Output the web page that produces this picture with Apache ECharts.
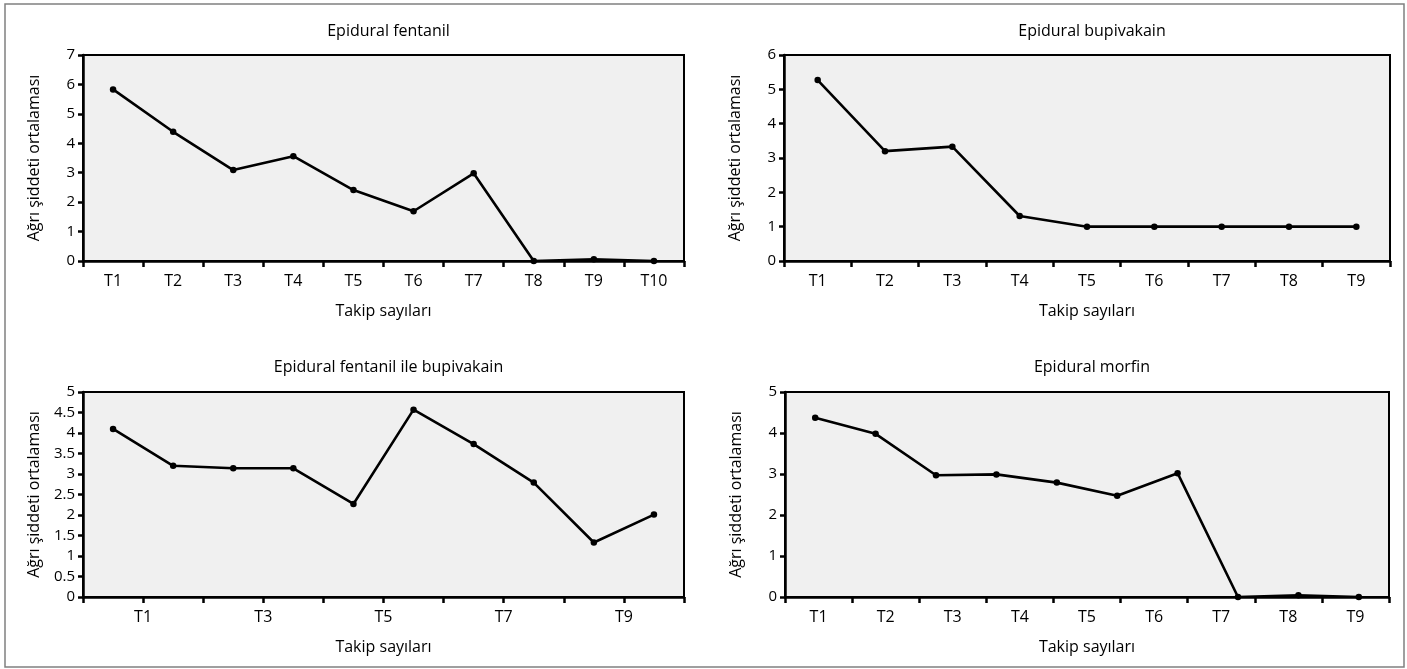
<!DOCTYPE html>
<html><head><meta charset="utf-8">
<script src="https://cdn.jsdelivr.net/npm/echarts@6/dist/echarts.min.js"></script>
<style>html,body{margin:0;padding:0;background:#fff}#c{width:1407px;height:669px}</style>
</head><body><div id="c"></div>
<script>
const titles = ['Epidural fentanil', 'Epidural bupivakain', 'Epidural fentanil ile bupivakain', 'Epidural morfin'];
const yAxisName = 'Ağrı şiddeti ortalaması';
const xAxisName = 'Takip sayıları';

const fentanilCats = ['T1','T2','T3','T4','T5','T6','T7','T8','T9','T10'];
const fentanilVals = [5.83, 4.39, 3.09, 3.56, 2.41, 1.69, 2.98, 0, 0.06, 0];

const bupiCats = ['T1','T2','T3','T4','T5','T6','T7','T8','T9'];
const bupiVals = [5.27, 3.2, 3.33, 1.31, 1, 1, 1, 1, 1];

const comboTickLabels = ['', 'T1', '', 'T3', '', 'T5', '', 'T7', '', 'T9', ''];
const comboVals = [4.10, 3.20, 3.14, 3.14, 2.27, 4.57, 3.73, 2.79, 1.33, 2.01];

const morfinCats = ['T1','T2','T3','T4','T5','T6','T7','T8','T9'];
const morfinVals = [4.37, 3.98, 2.97, 2.99, 2.79, 2.47, 3.02, 0, 0.04, 0];

const yMaxes = [7, 6, 5, 5];
const yIntervals = [1, 1, 0.5, 1];

const FONT = '"Open Sans", sans-serif';

const grids = [
  {left: 83, top: 55, width: 601, height: 206},
  {left: 784, top: 55, width: 606, height: 206},
  {left: 83, top: 392, width: 601, height: 205},
  {left: 785, top: 392, width: 604, height: 205}
].map(g => Object.assign(g, {show: true, backgroundColor: '#f0f0f0', borderColor: '#000', borderWidth: 2, containLabel: false}));

const axisLine = {show: true, lineStyle: {color: '#000', width: 2.5}};
const axisTick = {show: true, length: 6, inside: false, lineStyle: {color: '#000', width: 2.5}};
const xLabel = {color: '#000', fontSize: 16, fontFamily: FONT};
const yLabel = {color: '#000', fontSize: 15, fontFamily: FONT};
const nameStyle = {color: '#000', fontSize: 16, fontFamily: FONT};

function visibleX(gi, extra) {
  return Object.assign({
    gridIndex: gi, position: 'bottom',
    axisLine, axisTick,
    axisLabel: Object.assign({margin: 12, interval: 0}, xLabel),
    splitLine: {show: false},
    name: xAxisName, nameLocation: 'middle', nameGap: 42, nameTextStyle: nameStyle
  }, extra);
}
function hiddenX(gi, n) {
  return {gridIndex: gi, type: 'category', position: 'bottom', show: false, boundaryGap: true,
    data: Array.from({length: n}, (_, i) => String(i + 1))};
}

const xAxes = [
  visibleX(0, {type: 'category', boundaryGap: true, data: fentanilCats}),
  visibleX(1, {type: 'category', boundaryGap: true, data: bupiCats}),
  hiddenX(2, comboVals.length),
  visibleX(2, {type: 'value', min: 0, max: comboTickLabels.length - 1, interval: 1,
    axisLabel: Object.assign({margin: 12, showMinLabel: true, showMaxLabel: true,
      formatter: v => comboTickLabels[Math.round(v)] || ''}, xLabel)}),
  hiddenX(3, morfinVals.length),
  visibleX(3, {type: 'category', boundaryGap: true, data: morfinCats})
];

const yAxes = [0, 1, 2, 3].map(i => ({
  gridIndex: i, type: 'value', min: 0, max: yMaxes[i], interval: yIntervals[i],
  axisLine, axisTick: Object.assign({}, axisTick, {length: 5}),
  axisLabel: Object.assign({margin: 8}, yLabel),
  splitLine: {show: false},
  name: yAxisName, nameLocation: 'middle', nameGap: 41, nameTextStyle: nameStyle
}));

const seriesData = [fentanilVals, bupiVals, comboVals, morfinVals];
const seriesX = [0, 1, 2, 4];
const series = seriesData.map((d, i) => ({
  type: 'line', xAxisIndex: seriesX[i], yAxisIndex: i, data: d,
  symbol: 'circle', symbolSize: 6.5, showSymbol: true,
  lineStyle: {color: '#000', width: 2.6}, itemStyle: {color: '#000'},
  animation: false, silent: true
}));

const titleCenters = [[383.5, 18], [1087, 18], [383.5, 354], [1087, 354]];
const title = titles.map((t, i) => ({
  text: t, left: titleCenters[i][0], top: titleCenters[i][1], textAlign: 'center',
  textStyle: {color: '#000', fontSize: 16, fontWeight: 'normal', fontFamily: FONT}
}));

const chart = echarts.init(document.getElementById('c'), null, {renderer: 'canvas'});
chart.setOption({
  animation: false,
  backgroundColor: '#fff',
  title,
  grid: grids,
  xAxis: xAxes,
  yAxis: yAxes,
  series,
  graphic: [{
    type: 'rect', shape: {x: 5, y: 4, width: 1399, height: 663},
    style: {fill: 'none', stroke: '#808080', lineWidth: 1.5}, silent: true, z: -1
  }]
});
</script></body></html>
